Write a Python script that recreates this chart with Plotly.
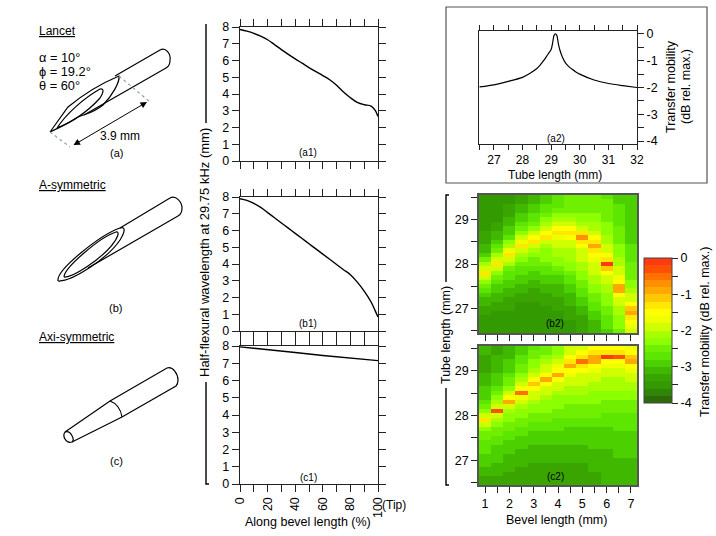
import numpy as np
import plotly.graph_objects as go

W, H = 716, 536
FONT = "Liberation Sans"
INK = "#222222"

# wavelength curves, position along bevel (%) vs half-flexural wavelength (mm)
a1_pos = [0, 5, 10, 15, 20, 25, 30, 35, 40, 45, 50, 55, 60, 65, 70, 75, 80, 85, 90, 95, 98, 100]
a1_val = [7.85, 7.75, 7.62, 7.45, 7.24, 6.95, 6.65, 6.37, 6.1, 5.84, 5.58, 5.34, 5.1, 4.85, 4.52, 4.12, 3.78, 3.5, 3.36, 3.28, 3.02, 2.65]
b1_pos = [0, 5, 10, 15, 20, 25, 30, 35, 40, 45, 50, 55, 60, 65, 70, 75, 80, 85, 90, 95, 98, 100]
b1_val = [7.9, 7.8, 7.62, 7.38, 7.07, 6.76, 6.45, 6.14, 5.83, 5.52, 5.21, 4.9, 4.59, 4.28, 3.97, 3.66, 3.36, 2.92, 2.38, 1.73, 1.2, 0.84]
c1_pos = [0, 20, 40, 60, 80, 100]
c1_val = [7.95, 7.8, 7.62, 7.45, 7.3, 7.15]

# lancet transfer mobility vs tube length
a2_len = [26.5, 27, 27.5, 28, 28.25, 28.5, 28.6, 28.75, 28.85, 29, 29.05, 29.1, 29.15, 29.2, 29.25, 29.3, 29.4, 29.5, 29.6, 29.75, 29.85, 30, 30.5, 31, 31.5, 32]
a2_val = [-1.98, -1.9, -1.77, -1.62, -1.48, -1.29, -1.18, -0.98, -0.82, -0.58, -0.35, -0.06, 0, -0.06, -0.35, -0.58, -0.88, -1.08, -1.2, -1.33, -1.41, -1.5, -1.72, -1.85, -1.93, -2.0]

# heatmaps, one list per bevel length, tube length rising from 26.5 to 29.5
bevel_mm = [1, 1.5, 2, 2.5, 3, 3.5, 4, 4.5, 5, 5.5, 6, 6.5, 7]
tube_mm = [26.5, 26.6, 26.7, 26.8, 26.9, 27.0, 27.1, 27.2, 27.3, 27.4, 27.5, 27.6, 27.7, 27.8, 27.9, 28.0,
           28.1, 28.2, 28.3, 28.4, 28.5, 28.6, 28.7, 28.8, 28.9, 29.0, 29.1, 29.2, 29.3, 29.4, 29.5]

b2_cols = [
    [-3.5, -3.5, -3.5, -3.5, -3.4, -3.3, -3.2, -3.1, -3.0, -2.8, -2.6, -2.3, -1.9, -1.4, -1.9, -2.2, -2.6, -2.9, -3.1, -3.2, -3.3, -3.3, -3.4, -3.5, -3.6, -3.6, -3.6, -3.6, -3.5, -3.5, -3.5],
    [-3.5, -3.5, -3.5, -3.5, -3.5, -3.4, -3.3, -3.2, -3.1, -3.0, -2.9, -2.8, -2.6, -2.4, -1.9, -1.4, -1.8, -2.2, -2.5, -2.8, -3.0, -3.1, -3.2, -3.3, -3.4, -3.5, -3.6, -3.6, -3.6, -3.6, -3.5],
    [-3.5, -3.5, -3.5, -3.5, -3.5, -3.4, -3.3, -3.3, -3.2, -3.1, -3.0, -2.9, -2.8, -2.7, -2.5, -2.2, -1.9, -1.4, -1.7, -2.1, -2.4, -2.7, -2.9, -3.0, -3.1, -3.2, -3.3, -3.3, -3.4, -3.5, -3.5],
    [-3.6, -3.6, -3.6, -3.6, -3.6, -3.5, -3.5, -3.4, -3.3, -3.2, -3.1, -3.0, -2.9, -2.8, -2.7, -2.6, -2.4, -2.2, -1.9, -1.3, -1.7, -2.0, -2.3, -2.5, -2.7, -2.9, -3.0, -3.1, -3.2, -3.3, -3.3],
    [-3.6, -3.6, -3.6, -3.6, -3.6, -3.5, -3.5, -3.4, -3.4, -3.3, -3.2, -3.1, -3.0, -2.9, -2.8, -2.6, -2.5, -2.3, -2.1, -1.8, -1.3, -1.6, -2.0, -2.3, -2.5, -2.7, -2.8, -2.9, -3.0, -3.1, -3.2],
    [-3.6, -3.6, -3.6, -3.6, -3.5, -3.5, -3.4, -3.4, -3.3, -3.2, -3.1, -3.0, -2.9, -2.8, -2.7, -2.5, -2.4, -2.3, -2.3, -2.1, -1.9, -1.3, -1.5, -1.9, -2.2, -2.4, -2.6, -2.7, -2.8, -2.9, -2.9],
    [-3.6, -3.6, -3.5, -3.5, -3.5, -3.4, -3.4, -3.3, -3.2, -3.2, -3.1, -3.0, -2.9, -2.7, -2.6, -2.4, -2.3, -2.2, -2.1, -2.0, -1.9, -1.7, -1.3, -1.6, -2.0, -2.2, -2.4, -2.6, -2.7, -2.7, -2.8],
    [-3.5, -3.5, -3.5, -3.4, -3.4, -3.3, -3.2, -3.1, -3.1, -3.0, -2.9, -2.8, -2.7, -2.6, -2.4, -2.3, -2.2, -2.2, -2.1, -2.0, -1.8, -1.6, -1.3, -1.6, -1.9, -2.1, -2.3, -2.5, -2.5, -2.6, -2.6],
    [-3.4, -3.4, -3.3, -3.3, -3.2, -3.1, -3.0, -2.9, -2.8, -2.7, -2.6, -2.5, -2.4, -2.3, -2.2, -2.1, -2.0, -1.9, -1.8, -1.6, -1.4, -0.7, -1.4, -1.8, -2.1, -2.3, -2.4, -2.5, -2.5, -2.6, -2.6],
    [-3.2, -3.1, -3.1, -3.0, -2.9, -2.8, -2.7, -2.6, -2.5, -2.4, -2.3, -2.2, -2.1, -2.0, -1.9, -1.8, -1.7, -1.6, -1.4, -1.0, -1.3, -1.6, -1.9, -2.1, -2.2, -2.4, -2.4, -2.5, -2.5, -2.5, -2.6],
    [-2.9, -2.8, -2.8, -2.7, -2.6, -2.5, -2.4, -2.4, -2.3, -2.2, -2.1, -2.0, -1.8, -1.6, -1.2, -0.1, -1.3, -1.6, -1.8, -2.0, -2.1, -2.2, -2.3, -2.4, -2.4, -2.5, -2.5, -2.6, -2.6, -2.6, -2.7],
    [-2.5, -2.4, -2.4, -2.3, -2.2, -2.1, -2.0, -1.8, -1.6, -1.0, -0.9, -1.5, -1.7, -1.9, -2.0, -2.1, -2.2, -2.3, -2.4, -2.4, -2.5, -2.5, -2.6, -2.6, -2.7, -2.7, -2.8, -2.8, -2.8, -2.9, -2.9],
    [-1.9, -1.7, -1.6, -1.4, -0.9, -1.2, -1.5, -1.8, -2.0, -2.2, -2.3, -2.4, -2.5, -2.5, -2.6, -2.6, -2.7, -2.7, -2.8, -2.8, -2.9, -2.9, -3.0, -3.0, -3.0, -3.0, -3.0, -3.0, -3.0, -3.0, -3.0],
]

c2_cols = [
    [-3.3, -3.3, -3.2, -3.1, -3.0, -2.9, -2.9, -2.8, -2.8, -2.7, -2.6, -2.5, -2.3, -2.0, -1.4, -2.0, -2.3, -2.5, -2.7, -2.9, -3.0, -3.0, -3.1, -3.2, -3.2, -3.3, -3.3, -3.3, -3.3, -3.2, -3.2],
    [-3.3, -3.3, -3.2, -3.2, -3.1, -3.0, -3.0, -2.9, -2.9, -2.8, -2.7, -2.6, -2.5, -2.4, -2.2, -1.9, -0.3, -1.9, -2.2, -2.4, -2.6, -2.8, -2.9, -3.0, -3.0, -3.1, -3.1, -3.2, -3.2, -3.3, -3.3],
    [-3.4, -3.3, -3.3, -3.2, -3.2, -3.1, -3.1, -3.0, -3.0, -2.9, -2.8, -2.7, -2.6, -2.5, -2.4, -2.3, -2.1, -1.8, -0.9, -1.6, -2.0, -2.3, -2.5, -2.6, -2.8, -2.9, -3.0, -3.0, -3.1, -3.1, -3.1],
    [-3.4, -3.4, -3.3, -3.3, -3.2, -3.2, -3.1, -3.1, -3.0, -3.0, -2.9, -2.8, -2.7, -2.6, -2.5, -2.4, -2.3, -2.2, -2.0, -1.7, -0.6, -1.5, -1.9, -2.2, -2.4, -2.5, -2.6, -2.7, -2.8, -2.9, -3.0],
    [-3.4, -3.4, -3.4, -3.3, -3.3, -3.2, -3.2, -3.1, -3.1, -3.0, -3.0, -2.9, -2.8, -2.7, -2.6, -2.5, -2.4, -2.3, -2.2, -2.0, -1.8, -1.6, -1.1, -1.5, -1.8, -2.1, -2.3, -2.4, -2.5, -2.6, -2.7],
    [-3.4, -3.4, -3.4, -3.3, -3.3, -3.2, -3.2, -3.1, -3.1, -3.0, -3.0, -2.9, -2.8, -2.7, -2.6, -2.5, -2.4, -2.4, -2.3, -2.2, -2.0, -1.8, -1.6, -0.8, -1.5, -1.8, -2.0, -2.2, -2.4, -2.5, -2.5],
    [-3.4, -3.4, -3.4, -3.3, -3.3, -3.2, -3.2, -3.1, -3.1, -3.0, -3.0, -2.9, -2.8, -2.8, -2.7, -2.6, -2.5, -2.4, -2.4, -2.3, -2.2, -2.0, -1.8, -1.6, -1.0, -1.5, -1.7, -1.9, -2.1, -2.3, -2.4],
    [-3.4, -3.4, -3.4, -3.3, -3.3, -3.2, -3.2, -3.1, -3.1, -3.0, -3.0, -2.9, -2.9, -2.8, -2.7, -2.6, -2.5, -2.5, -2.4, -2.3, -2.2, -2.1, -2.0, -1.9, -1.7, -1.5, -0.9, -1.3, -1.6, -1.8, -2.0],
    [-3.4, -3.4, -3.4, -3.3, -3.3, -3.2, -3.2, -3.1, -3.1, -3.0, -3.0, -2.9, -2.9, -2.8, -2.7, -2.6, -2.5, -2.5, -2.4, -2.3, -2.2, -2.1, -2.0, -1.9, -1.8, -1.6, -1.4, -0.6, -1.3, -1.6, -1.8],
    [-3.3, -3.3, -3.3, -3.2, -3.2, -3.2, -3.1, -3.1, -3.0, -3.0, -3.0, -2.9, -2.9, -2.8, -2.7, -2.6, -2.6, -2.5, -2.4, -2.3, -2.3, -2.2, -2.1, -2.0, -1.9, -1.7, -1.5, -0.9, -1.0, -1.4, -1.6],
    [-3.1, -3.2, -3.2, -3.2, -3.2, -3.1, -3.1, -3.1, -3.0, -3.0, -3.0, -2.9, -2.9, -2.8, -2.7, -2.7, -2.6, -2.5, -2.5, -2.4, -2.3, -2.2, -2.2, -2.1, -2.0, -1.9, -1.7, -1.5, -0.2, -1.4, -1.6],
    [-3.1, -3.1, -3.1, -3.1, -3.1, -3.1, -3.0, -3.0, -3.0, -2.9, -2.9, -2.9, -2.8, -2.8, -2.7, -2.7, -2.6, -2.5, -2.5, -2.4, -2.3, -2.2, -2.2, -2.1, -2.0, -1.9, -1.7, -1.5, -0.3, -1.4, -1.6],
    [-3.1, -3.1, -3.1, -3.1, -3.1, -3.1, -3.0, -3.0, -3.0, -2.9, -2.9, -2.9, -2.8, -2.8, -2.7, -2.7, -2.6, -2.5, -2.5, -2.4, -2.3, -2.2, -2.1, -2.0, -1.9, -1.7, -1.5, -0.9, -1.2, -1.5, -1.7],
]

# colour bands of the bar, bottom to top, each 0.2 dB
band_colors = ["#2d6a08", "#2e8506", "#339a02", "#3aa500", "#40b800", "#4cd000", "#5ce600", "#70f000", "#8cff00", "#a8ff00",
               "#d0ff00", "#f0ff00", "#ffff00", "#ffe800", "#ffc800", "#ffa800", "#ff9000", "#ff7000", "#ff5000", "#ff3a10"]
colorscale = []
for i, c in enumerate(band_colors):
    colorscale.append([i / 20, c])
    colorscale.append([(i + 1) / 20, c])


def px(x):
    return x / W


def py(y):
    return 1 - y / H


def svg(d):
    # path given in page pixels, turned into paper coordinates
    out = []
    for tok in d.split():
        if tok.isalpha():
            out.append(tok)
        else:
            a, b = tok.split(",")
            out.append(f"{px(float(a)):.5f},{py(float(b)):.5f}")
    return " ".join(out)


def dom(a, b, size):
    return [a / size, b / size]


fig = go.Figure()
fig.add_trace(go.Scatter(x=a1_pos, y=a1_val, mode="lines", line=dict(color="black", width=1.4, shape="spline", smoothing=1), xaxis="x", yaxis="y"))
fig.add_trace(go.Scatter(x=b1_pos, y=b1_val, mode="lines", line=dict(color="black", width=1.4, shape="spline", smoothing=1), xaxis="x2", yaxis="y2"))
fig.add_trace(go.Scatter(x=c1_pos, y=c1_val, mode="lines", line=dict(color="black", width=1.4), xaxis="x3", yaxis="y3"))
fig.add_trace(go.Scatter(x=a2_len, y=a2_val, mode="lines", line=dict(color="black", width=1.2, shape="spline", smoothing=0.6), xaxis="x4", yaxis="y4"))
fig.add_trace(go.Heatmap(x=bevel_mm, y=tube_mm, z=np.array(b2_cols).T, coloraxis="coloraxis", xaxis="x5", yaxis="y5"))
fig.add_trace(go.Heatmap(x=bevel_mm, y=tube_mm, z=np.array(c2_cols).T, coloraxis="coloraxis", xaxis="x6", yaxis="y6"))

pct_ticks = list(range(0, 101, 10))
pct_text = [str(v) if v % 20 == 0 else "" for v in pct_ticks]
left_base = dict(showline=True, linecolor=INK, linewidth=1.4, ticks="outside", ticklen=7, tickwidth=1.3,
                 tickcolor=INK, mirror="ticks", showgrid=False, zeroline=False,
                 tickfont=dict(size=12.5, family=FONT, color="black"))


def pct_x(top, bottom, labels, anchor):
    d = dict(left_base, domain=dom(240, 378, W), range=[0, 100], anchor=anchor, tickvals=pct_ticks)
    if labels:
        d.update(ticktext=pct_text, tickangle=-90)
    else:
        d.update(showticklabels=False)
    return d


def wave_y(top, bottom, anchor):
    return dict(left_base, domain=[py(bottom), py(top)], range=[0, 8], anchor=anchor, tickvals=list(range(9)))


fig.update_layout(
    xaxis=pct_x(27, 161, False, "y"), yaxis=wave_y(27, 161, "x"),
    xaxis2=pct_x(197, 331, False, "y2"), yaxis2=wave_y(197, 331, "x2"),
    xaxis3=pct_x(346, 484, True, "y3"), yaxis3=wave_y(346, 484, "x3"),
)

half_x = [26.5 + 0.5 * i for i in range(12)]
half_y = [0, -0.5, -1, -1.5, -2, -2.5, -3, -3.5, -4]
fig.update_layout(
    xaxis4=dict(domain=dom(479, 637, W), range=[26.48, 32], anchor="y4", showline=True, linecolor=INK, linewidth=1,
                mirror="ticks", ticks="outside", ticklen=5, tickwidth=1, tickcolor=INK, showgrid=False, zeroline=False,
                tickvals=half_x, ticktext=[str(int(v)) if v == int(v) else "" for v in half_x],
                tickfont=dict(size=12, family=FONT, color="black")),
    yaxis4=dict(domain=[py(144), py(31)], range=[-4.11, 0.11], anchor="x4", side="right", showline=True, linecolor=INK,
                linewidth=1, mirror=True, ticks="outside", ticklen=6, tickwidth=1, tickcolor=INK, showgrid=False,
                zeroline=False, tickvals=half_y, ticktext=[str(int(v)) if v == int(v) else "" for v in half_y],
                tickfont=dict(size=12.5, family=FONT, color="black")),
)

heat_x = [1 + 0.5 * i for i in range(13)]
heat_y = [26.5, 27, 27.5, 28, 28.5, 29, 29.5]


def heat_axes(top, bottom, anchor_x, anchor_y, labels):
    x = dict(domain=dom(479, 637, W), range=[0.75, 7.25], anchor=anchor_y, showline=True, linecolor="#555555", linewidth=1.5,
             mirror=True, ticks="outside", ticklen=6, tickwidth=1, tickcolor=INK, tickvals=heat_x, showgrid=False, zeroline=False,
             tickfont=dict(size=12.5, family=FONT, color="black"))
    if labels:
        x["ticktext"] = [str(int(v)) if v == int(v) else "" for v in heat_x]
    else:
        x["showticklabels"] = False
    y = dict(domain=[py(bottom), py(top)], range=[26.45, 29.55], anchor=anchor_x, showline=True, linecolor="#555555", linewidth=1.5,
             mirror=True, ticks="outside", ticklen=6, tickwidth=1, tickcolor=INK, tickvals=heat_y,
             ticktext=[str(int(v)) if v == int(v) else "" for v in heat_y], showgrid=False, zeroline=False,
             tickfont=dict(size=12.5, family=FONT, color="black"))
    return x, y


x5, y5 = heat_axes(195, 333, "x5", "y5", False)
x6, y6 = heat_axes(346, 485, "x6", "y6", True)
fig.update_layout(xaxis5=x5, yaxis5=y5, xaxis6=x6, yaxis6=y6)

fig.update_layout(coloraxis=dict(
    cmin=-4, cmax=0, colorscale=colorscale,
    colorbar=dict(lenmode="pixels", len=145, thicknessmode="pixels", thickness=28, x=px(644), xanchor="left",
                  y=py(258), yanchor="top", xpad=0, ypad=0, outlinecolor="#444444", outlinewidth=1,
                  ticks="outside", ticklen=6, tickwidth=1, tickcolor=INK,
                  tickvals=half_y, ticktext=[str(int(v)) if v == int(v) else "" for v in half_y],
                  tickfont=dict(size=12.5, family=FONT, color="black")),
))

# text placed in page pixels
labels = [
    ("<u>Lancet</u>", 37, 31, 0, "left", 12),
    ("α = 10°", 37, 57, 0, "left", 12.8),
    ("ϕ = 19.2°", 37, 72, 0, "left", 12.8),
    ("θ = 60°", 37, 86, 0, "left", 12.8),
    ("3.9 mm", 120, 136, 0, "center", 12),
    ("(a)", 116, 153, 0, "center", 11),
    ("<u>A-symmetric</u>", 37, 185, 0, "left", 12),
    ("(b)", 115, 308, 0, "center", 11),
    ("<u>Axi-symmetric</u>", 37, 337, 0, "left", 12),
    ("(c)", 116, 461, 0, "center", 11),
    ("(a1)", 308, 153, 0, "center", 10),
    ("(b1)", 308, 323, 0, "center", 10),
    ("(c1)", 308, 477, 0, "center", 10),
    ("(a2)", 556, 138, 0, "center", 10),
    ("(b2)", 555, 323, 0, "center", 10),
    ("(c2)", 555, 476, 0, "center", 10),
    ("(Tip)", 394, 505, 0, "center", 12),
    ("Along bevel length (%)", 308, 522, 0, "center", 12.5),
    ("Bevel length (mm)", 556, 520, 0, "center", 12.5),
    ("Tube length (mm)", 555, 175, 0, "center", 12),
    ("Half-flexural wavelength at 29.75 kHz (mm)", 205, 253, -90, "center", 13),
    ("Tube length (mm)", 446, 335, -90, "center", 12.5),
    ("Transfer mobility", 671, 87, -90, "center", 12.5),
    ("(dB rel. max.)", 686, 87, -90, "center", 12.5),
    ("Transfer mobility (dB rel. max.)", 705, 332, -90, "center", 12.5),
]
for text, x, y, angle, align, size in labels:
    fig.add_annotation(text=text, x=px(x), y=py(y), xref="paper", yref="paper", showarrow=False, textangle=angle,
                       xanchor=align if angle == 0 else "center", yanchor="middle", font=dict(size=size, family=FONT, color="black"))

# needle schematics and brackets, drawn in page pixels
dark = dict(color="black", width=1.2)
gray = dict(color="#8fa6a6", width=1.2, dash="dot")
paths = [
    # lancet
    ("M 115,76 L 160,50 C 166,47 171,54 170,60 C 170,64 168,67 166,68 L 84,115", dark),
    ("M 50,132 L 68,107 C 80,97 100,84 119,76 C 120,82 112,96 103,105 C 92,114 84,114 78,117 C 70,123 60,127 50,132", dark),
    ("M 57,128 C 66,114 84,98 100,89 C 104,88 104,92 100,98 C 92,107 84,113 78,117 C 70,122 62,126 57,128", dark),
    ("M 119,76 L 150,102", gray),
    ("M 50,132 L 70,147", gray),
    # a-symmetric
    ("M 120,228 L 170,198 C 176,195 182,202 182,208 C 182,212 180,215 178,216 L 88,268", dark),
    ("M 58,281 C 56,270 100,235 120,228 C 126,226 125,232 120,240 C 108,258 72,282 58,281", dark),
    ("M 64,277 C 64,268 100,237 116,232 C 120,231 118,238 112,245 C 100,260 72,278 64,277", dark),
    # axi-symmetric
    ("M 65,432 L 110,401 L 167,368 C 173,366 178,374 178,380 C 178,383 177,385 176,386 L 122,417 L 72,442", dark),
    ("M 110,401 C 116,403 121,409 122,417", dark),
    ("M 65,432 C 62,436 66,444 72,442 C 75,440 71,430 65,432", dark),
    # brackets
    ("M 206,24 L 206,123", dict(color="black", width=1.4)),
    ("M 206,382 L 206,484 L 209,484", dict(color="black", width=1.4)),
    ("M 449,195 L 446,195 L 446,282", dict(color="black", width=1.4)),
    ("M 446,388 L 446,485 L 449,485", dict(color="black", width=1.4)),
]
for d, line in paths:
    fig.add_shape(type="path", path=svg(d), xref="paper", yref="paper", line=line)

fig.add_shape(type="rect", x0=px(446), x1=px(707), y0=py(183), y1=py(7), xref="paper", yref="paper",
              line=dict(color="#555555", width=1.2))
# dimension arrow of the lancet
fig.add_annotation(x=px(147), y=py(102), ax=-75, ay=44, xref="paper", yref="paper", axref="pixel", ayref="pixel",
                   text="", showarrow=True, arrowhead=2, arrowside="end+start", arrowwidth=1, arrowsize=1.3, arrowcolor="black")

fig.update_layout(width=W, height=H, margin=dict(l=0, r=0, t=0, b=0, autoexpand=False), paper_bgcolor="white", plot_bgcolor="white",
                  showlegend=False, font=dict(family=FONT, size=12, color="black"))
# the page's default body margin would push the figure 8px in
fig.write_html("out.html", post_script="document.body.style.margin = '0';", config=dict(displayModeBar=False))
